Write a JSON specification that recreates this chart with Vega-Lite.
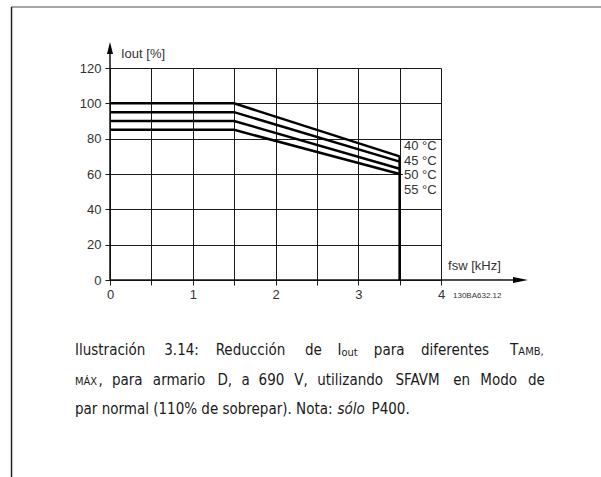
{
  "$schema": "https://vega.github.io/schema/vega-lite/v6.json",
  "width": 331,
  "height": 212,
  "autosize": {"type": "none"},
  "padding": {"left": 110, "top": 68, "right": 160, "bottom": 197},
  "background": "white",
  "config": {"view": {"stroke": null}, "font": "Liberation Sans"},
  "datasets": {
    "curves": [
      {"temp": "40 °C", "x": 0, "y": 100}, {"temp": "40 °C", "x": 1.5, "y": 100}, {"temp": "40 °C", "x": 3.5, "y": 70},
      {"temp": "45 °C", "x": 0, "y": 95}, {"temp": "45 °C", "x": 1.5, "y": 95}, {"temp": "45 °C", "x": 3.5, "y": 67},
      {"temp": "50 °C", "x": 0, "y": 90}, {"temp": "50 °C", "x": 1.5, "y": 90}, {"temp": "50 °C", "x": 3.5, "y": 63},
      {"temp": "55 °C", "x": 0, "y": 85}, {"temp": "55 °C", "x": 1.5, "y": 85}, {"temp": "55 °C", "x": 3.5, "y": 60}
    ],
    "cutoff": [{"x": 3.5, "x2": 3.5, "y": 0, "y2": 70}],
    "axisLines": [
      {"x": 0, "x2": 0, "y": 0, "y2": 128},
      {"x": 0, "x2": 4.9, "y": 0, "y2": 0}
    ],
    "yArrow": [{"x": 0, "y": 131.3}],
    "xArrow": [{"x": 4.961, "y": 0}],
    "frameTop": [{"x": -1.196, "x2": 5.94, "y": 154.5, "y2": 154.5}],
    "frameLeft": [{"x": -1.19, "x2": -1.19, "y": 154.5, "y2": -112}],
    "labelBox": [{"x": 3.54, "x2": 4.0, "y": 46.4, "y2": 79.2}],
    "tempLabels": [
      {"t": "40 °C", "x": 3.553, "y": 75.85},
      {"t": "45 °C", "x": 3.553, "y": 67.36},
      {"t": "50 °C", "x": 3.553, "y": 59.7},
      {"t": "55 °C", "x": 3.553, "y": 50.9}
    ],
    "axisTitles": [
      {"t": "Iout [%]", "x": 0.133, "y": 127.9},
      {"t": "fsw [kHz]", "x": 4.085, "y": 7.9}
    ],
    "code": [{"t": "130BA632.12", "x": 4.145, "y": -9.06}],
    "captionMain": [
      {"t": "Ilustración", "x": -0.423, "y": -42.45},
      {"t": "3.14:", "x": 0.656, "y": -42.45},
      {"t": "Reducción", "x": 1.277, "y": -42.45},
      {"t": "de", "x": 2.356, "y": -42.45},
      {"t": "I", "x": 2.749, "y": -42.45},
      {"t": "para", "x": 3.188, "y": -42.45},
      {"t": "diferentes", "x": 3.757, "y": -42.45},
      {"t": "T", "x": 4.835, "y": -42.45},
      {"t": ",", "x": -0.14, "y": -59.43},
      {"t": "para", "x": 0.024, "y": -59.43},
      {"t": "armario", "x": 0.518, "y": -59.43},
      {"t": "D,", "x": 1.298, "y": -59.43},
      {"t": "a", "x": 1.589, "y": -59.43},
      {"t": "690", "x": 1.796, "y": -59.43},
      {"t": "V,", "x": 2.228, "y": -59.43},
      {"t": "utilizando", "x": 2.504, "y": -59.43},
      {"t": "SFAVM", "x": 3.45, "y": -59.43},
      {"t": "en", "x": 4.147, "y": -59.43},
      {"t": "Modo", "x": 4.475, "y": -59.43},
      {"t": "de", "x": 5.05, "y": -59.43},
      {"t": "par normal (110% de sobrepar). Nota:", "x": -0.423, "y": -75.85},
      {"t": "P400.", "x": 3.16, "y": -75.85}
    ],
    "captionSmall": [
      {"t": "out", "x": 2.797, "y": -43.0},
      {"t": "AMB,", "x": 4.935, "y": -42.45},
      {"t": "MÁX", "x": -0.423, "y": -59.43}
    ],
    "captionItalic": [
      {"t": "sólo", "x": 2.75, "y": -75.85}
    ]
  },
  "encoding": {
    "x": {"field": "x", "type": "quantitative", "scale": {"domain": [0, 4], "nice": false, "zero": false}, "axis": {
      "values": [0, 0.5, 1, 1.5, 2, 2.5, 3, 3.5, 4],
      "format": "~g",
      "labelExpr": "datum.value % 1 === 0 ? datum.label : ''",
      "labelOverlap": false, "labelFlush": false,
      "title": null, "domain": false, "grid": true, "gridColor": "#1a1a1a", "gridOpacity": 1, "gridWidth": 1,
      "tickColor": "#1a1a1a", "tickSize": 5, "labelFontSize": 13, "labelColor": "#333333", "labelPadding": 3, "labelFont": "Liberation Sans"
    }},
    "y": {"field": "y", "type": "quantitative", "scale": {"domain": [0, 120], "nice": false, "zero": false}, "axis": {
      "values": [0, 20, 40, 60, 80, 100, 120],
      "labelOverlap": false, "labelFlush": false,
      "title": null, "domain": false, "grid": true, "gridColor": "#1a1a1a", "gridOpacity": 1, "gridWidth": 1,
      "tickColor": "#1a1a1a", "tickSize": 5, "labelFontSize": 13, "labelColor": "#333333", "labelPadding": 4, "labelFont": "Liberation Sans"
    }}
  },
  "layer": [
    {
      "data": {"name": "frameTop"},
      "mark": {"type": "rule", "color": "#8a8a8a", "strokeWidth": 1.5, "clip": false},
      "encoding": {"x2": {"field": "x2"}, "y2": {"field": "y2"}}
    },
    {
      "data": {"name": "frameLeft"},
      "mark": {"type": "rule", "color": "#222222", "strokeWidth": 1.5, "clip": false},
      "encoding": {"x2": {"field": "x2"}, "y2": {"field": "y2"}}
    },
    {
      "data": {"name": "labelBox"},
      "mark": {"type": "rect", "color": "white", "clip": false},
      "encoding": {"x2": {"field": "x2"}, "y2": {"field": "y2"}}
    },
    {
      "data": {"name": "axisLines"},
      "mark": {"type": "rule", "color": "#111111", "strokeWidth": 1.5, "clip": false},
      "encoding": {"x2": {"field": "x2"}, "y2": {"field": "y2"}}
    },
    {
      "data": {"name": "yArrow"},
      "mark": {"type": "point", "shape": "M0,-1L0.5,1L-0.5,1Z", "size": 144, "filled": true, "color": "#000000", "opacity": 1, "clip": false},
      "encoding": {}
    },
    {
      "data": {"name": "xArrow"},
      "mark": {"type": "point", "shape": "M1,0L-1,-0.4L-1,0.4Z", "size": 225, "filled": true, "color": "#000000", "opacity": 1, "clip": false},
      "encoding": {}
    },
    {
      "data": {"name": "curves"},
      "mark": {"type": "line", "color": "#000000", "strokeWidth": 2.5, "clip": false},
      "encoding": {"detail": {"field": "temp"}}
    },
    {
      "data": {"name": "cutoff"},
      "mark": {"type": "rule", "color": "#000000", "strokeWidth": 2.5, "clip": false},
      "encoding": {"x2": {"field": "x2"}, "y2": {"field": "y2"}}
    },
    {
      "data": {"name": "tempLabels"},
      "mark": {"type": "text", "align": "left", "baseline": "middle", "fontSize": 13, "font": "Liberation Sans", "color": "#333333", "clip": false},
      "encoding": {"text": {"field": "t"}}
    },
    {
      "data": {"name": "axisTitles"},
      "mark": {"type": "text", "align": "left", "baseline": "middle", "fontSize": 13, "font": "Liberation Sans", "color": "#333333", "clip": false},
      "encoding": {"text": {"field": "t"}}
    },
    {
      "data": {"name": "code"},
      "mark": {"type": "text", "align": "left", "baseline": "middle", "fontSize": 8, "font": "Liberation Sans", "color": "#333333", "clip": false},
      "encoding": {"text": {"field": "t"}}
    },
    {
      "data": {"name": "captionMain"},
      "mark": {"type": "text", "align": "left", "baseline": "alphabetic", "fontSize": 15, "font": "'DejaVu Sans Condensed', 'DejaVu Sans'", "color": "#1a1a1a", "clip": false},
      "encoding": {"text": {"field": "t"}}
    },
    {
      "data": {"name": "captionSmall"},
      "mark": {"type": "text", "align": "left", "baseline": "alphabetic", "fontSize": 11, "font": "'DejaVu Sans Condensed', 'DejaVu Sans'", "color": "#1a1a1a", "clip": false},
      "encoding": {"text": {"field": "t"}}
    },
    {
      "data": {"name": "captionItalic"},
      "mark": {"type": "text", "align": "left", "baseline": "alphabetic", "fontSize": 15, "fontStyle": "italic", "font": "'DejaVu Sans Condensed', 'DejaVu Sans'", "color": "#1a1a1a", "clip": false},
      "encoding": {"text": {"field": "t"}}
    }
  ]
}
